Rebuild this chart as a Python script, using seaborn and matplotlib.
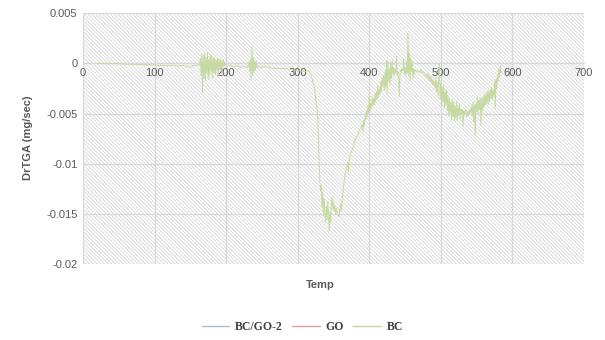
import matplotlib
matplotlib.use("Agg")
import matplotlib.pyplot as plt
from matplotlib.patches import Rectangle
from matplotlib.lines import Line2D
import seaborn as sns
import pandas as pd

# ---- data ----
series_names = ["BC/GO-2", "GO", "BC"]
series_colors = ["#a7bcd8", "#dc9e9e", "#c5d79d"]

bc_temp = [
    20, 30, 40, 50, 60, 70, 80, 90, 100, 110, 120, 130, 140, 145, 150, 153, 158, 163,
    164, 165, 166, 167, 168, 169, 170, 171, 172, 173, 174, 175, 176, 177, 178, 179,
    180, 181, 182, 183, 184, 185, 186, 187, 188, 189, 190, 191, 192, 193, 194, 195,
    196, 197, 198, 200,
    205, 210, 215, 220, 225, 230, 232, 233, 234, 235, 236, 237, 238, 239, 240, 241,
    242, 243, 245, 250, 255, 260, 270, 280, 290, 300, 310, 315, 318, 320, 323, 325,
    327, 328, 329, 330, 331, 332, 333, 334, 335, 336, 337, 338, 339, 340, 341, 342,
    343, 344, 345, 346, 347, 348, 349, 350, 351, 352, 353, 354, 355, 356, 357, 358,
    359, 360, 361, 362, 363, 364, 365, 366, 368, 370, 371, 372, 374, 376, 378, 380,
    382, 384, 386, 388, 390, 391, 392, 393, 394, 395, 396, 397, 398, 399, 400, 401,
    402, 403, 404, 405, 406, 407, 408, 409, 410, 411, 412, 413, 414, 415, 416, 417,
    418, 419, 420, 421, 422, 423, 424, 425, 426, 427, 428, 429, 430, 431, 432, 433,
    434, 435, 436, 437, 438, 439, 440, 441, 442, 443, 444, 445, 446, 447, 448, 449,
    450, 451, 452, 453, 454, 455, 456, 457, 458, 459, 460, 461, 462, 463, 464, 466,
    468, 470, 472, 474, 476, 478, 480, 481, 482, 483, 484, 485, 486, 487, 488, 489,
    490, 491, 492, 493, 494, 495, 496, 497, 498, 499, 500, 501, 502, 503, 504, 505,
    506, 507, 508, 509, 510, 511, 512, 513, 514, 515, 516, 517, 518, 519, 520, 521,
    522, 523, 524, 525, 526, 527, 528, 529, 530, 531, 532, 533, 534, 535, 536, 537,
    538, 539, 540, 541, 542, 543, 544, 545, 546, 547, 548, 549, 550, 551, 552, 553,
    554, 555, 556, 557, 558, 559, 560, 561, 562, 563, 564, 565, 566, 567, 568, 569,
    570, 571, 572, 573, 574, 575, 576, 577, 578, 579, 580, 581, 582, 583, 584, 585,
]
bc_drtga = [
    0.0, 0.0, -0.00002, -0.00005, -0.00005, -0.0001, -0.0001, -0.0001, -0.00015, -0.0002,
    -0.0002, -0.00025, -0.0002, -0.0003, -0.0004, -0.0002, -0.0002, -0.0001,
    0.0005, -0.0012, 0.0009, -0.0029, 0.0008, -0.0015, 0.001, -0.0017, 0.0006, -0.001,
    0.0011, -0.0016, 0.0004, -0.0012, 0.0009, -0.0008, 0.0007, -0.0014, 0.0005, -0.0009,
    0.0006, -0.0011, 0.0004, -0.0007, 0.0005, -0.0012, 0.0005, -0.0006, 0.0004, -0.0008,
    0.0003, -0.0005, 0.0004, -0.0003, 0.0001, -0.0003,
    -0.0002, -0.0003, -0.0002, -0.0004, -0.0003, -0.0004, 0.0002, -0.0008, 0.0004, -0.0016,
    0.0017, -0.0012, 0.0006, -0.0009, 0.0003, -0.0006, 0.0002, -0.0004, -0.0003, -0.0004,
    -0.0003, -0.0004, -0.0005, -0.0005, -0.0006, -0.0007, -0.0008, -0.0007, -0.001, -0.0015,
    -0.0023, -0.0035, -0.0045, -0.005, -0.0075, -0.01, -0.0118, -0.0127, -0.0122, -0.0143,
    -0.0128, -0.0152, -0.0135, -0.0148, -0.0158, -0.0142, -0.0155, -0.0138, -0.015, -0.0167,
    -0.0148, -0.0158, -0.014, -0.0133, -0.0145, -0.0138, -0.0147, -0.0142, -0.015, -0.0144,
    -0.0148, -0.0149, -0.0152, -0.0153, -0.0145, -0.014, -0.0147, -0.0135, -0.013, -0.0122,
    -0.0118, -0.011, -0.0105, -0.0098, -0.0108, -0.0095, -0.009, -0.0086, -0.0082, -0.0076,
    -0.0073, -0.0072, -0.0066, -0.0064, -0.0061, -0.0068, -0.0057, -0.0062, -0.0052, -0.0056,
    -0.0047, -0.0053, -0.0042, -0.005, -0.0032, -0.0048, -0.004, -0.0045, -0.0033, -0.0042,
    -0.0035, -0.0041, -0.003, -0.0038, -0.0028, -0.0036, -0.0022, -0.0034, -0.0025, -0.003,
    -0.0018, -0.0028, -0.0014, -0.0022, -0.0012, -0.0027, -0.0008, -0.0024, 0.0003, -0.003,
    0.0003, -0.0018, -0.0005, -0.0021, 0.0001, -0.0015, 0.0003, -0.0011, -0.0004, -0.0012,
    -0.0006, -0.0009, 0.0007, -0.0012, -0.0008, -0.0016, -0.0033, -0.0008, -0.0006, -0.0009,
    -0.0005, -0.0007, 0.0005, -0.001, -0.0004, -0.0012, 0.0002, -0.0009, 0.003, -0.0013,
    0.0011, -0.0017, 0.0006, -0.0008, 0.0002, -0.0015, -0.0005, -0.0011, -0.0006, -0.0008,
    -0.0007, -0.0009, -0.0006, -0.001, -0.0008, -0.0012, -0.0013, -0.001, -0.0015, -0.0011,
    -0.0017, -0.0013, -0.0018, -0.0014, -0.0021, -0.0016, -0.0022, -0.0018, -0.0025, -0.0014,
    -0.0028, -0.0019, -0.0032, -0.0012, 0.0, -0.0035, -0.002, -0.0042, -0.0024, -0.0038,
    -0.0022, -0.0045, -0.0028, -0.0041, -0.0026, -0.0047, -0.0032, -0.0052, -0.0035, -0.0049,
    -0.0038, -0.0056, -0.0036, -0.0053, -0.0039, -0.0058, -0.0042, -0.0054, -0.0038, -0.0057,
    -0.0044, -0.0052, -0.004, -0.0055, -0.0045, -0.005, -0.0046, -0.0063, -0.0047, -0.0051,
    -0.0048, -0.0046, -0.0053, -0.0049, -0.0052, -0.0047, -0.005, -0.0045, -0.0049, -0.0043,
    -0.0052, -0.0038, -0.0058, -0.0042, -0.0072, -0.004, -0.0048, -0.0033, -0.005, -0.0036,
    -0.0046, -0.0034, -0.0062, -0.0035, -0.0047, -0.0033, -0.0044, -0.0031, -0.0042, -0.003,
    -0.004, -0.0028, -0.0041, -0.0027, -0.0038, -0.0026, -0.0035, -0.0024, -0.0036, -0.0027,
    -0.0032, -0.0018, -0.0045, -0.0016, -0.0025, -0.0012, -0.0018, -0.0005, -0.0014, -0.0002,
    -0.0009, -0.0008,
]

x_ticks = [0, 100, 200, 300, 400, 500, 600, 700]
y_ticks = [0.005, 0, -0.005, -0.01, -0.015, -0.02]
y_tick_labels = ["0.005", "0", "-0.005", "-0.01", "-0.015", "-0.02"]

# ---- figure ----
sns.set_style("white")
plt.rcParams["font.family"] = ["Liberation Sans", "DejaVu Sans"]
plt.rcParams["hatch.color"] = "#dcdcdc"
plt.rcParams["hatch.linewidth"] = 0.7

fig = plt.figure(figsize=(6.05, 3.4), dpi=100)
ax = fig.add_axes([83 / 605, 1 - 264.3 / 340, (584 - 83) / 605, (264.3 - 13.3) / 340])

# hatched plot-area background
bg = Rectangle((0, 0), 1, 1, transform=ax.transAxes, facecolor="white",
               edgecolor="#dcdcdc", linewidth=0, hatch="\\" * 9, zorder=0)
ax.add_patch(bg)

df = pd.DataFrame({"Temp": bc_temp, "DrTGA": bc_drtga})
sns.lineplot(data=df, x="Temp", y="DrTGA", ax=ax, color="#c8daa3",
             linewidth=0.7, estimator=None, sort=False, zorder=3)

ax.set_xlim(0, 700)
ax.set_ylim(-0.02, 0.005)
ax.set_xticks(x_ticks)
ax.set_yticks(y_ticks)
ax.set_yticklabels(y_tick_labels)
ax.grid(True, color="#d9d9d9", linewidth=0.9, zorder=1)
ax.set_axisbelow(True)

for s in ["top", "right", "left"]:
    ax.spines[s].set_visible(False)
ax.spines["bottom"].set_position(("data", 0))
ax.spines["bottom"].set_color("#d9d9d9")
ax.spines["bottom"].set_linewidth(0.9)
ax.tick_params(axis="both", length=0, labelsize=8, labelcolor="#595959")
ax.tick_params(axis="x", pad=3)
ax.tick_params(axis="y", pad=4)

ax.set_xlabel("")
ax.set_ylabel("")
fig.text(28 / 605, 1 - 138 / 340, "DrTGA (mg/sec)", rotation=90, ha="center", va="center",
         fontsize=8, fontweight="bold", color="#595959")
fig.text(320 / 605, 1 - 285 / 340, "Temp", ha="center", va="center",
         fontsize=8, fontweight="bold", color="#595959")

handles = [Line2D([], [], color=c, linewidth=1.0) for c in series_colors]
leg = fig.legend(handles, series_names, loc="center", bbox_to_anchor=(0.5, 1 - 327 / 340),
                 ncol=3, frameon=False, handlelength=2.3, handletextpad=0.5,
                 columnspacing=0.8,
                 prop={"family": ["Liberation Serif"], "weight": "bold", "size": 8.5})
for t in leg.get_texts():
    t.set_color("#404040")

fig.savefig("out.png", dpi=100)
